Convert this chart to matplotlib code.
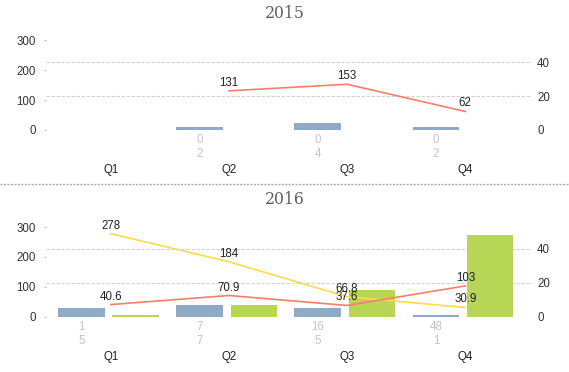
import numpy as np
import matplotlib
matplotlib.use("Agg")
import matplotlib.pyplot as plt
from matplotlib.lines import Line2D

# datos
trimestres = ["Q1", "Q2", "Q3", "Q4"]

azul_2015 = [np.nan, 2, 4, 2]
verde_2015 = [np.nan, 0, 0, 0]
rojo_2015 = [np.nan, 131, 153, 62]
amarillo_2015 = [np.nan, np.nan, np.nan, np.nan]

azul_2016 = [5, 7, 5, 1]
verde_2016 = [1, 7, 16, 48]
rojo_2016 = [40.6, 70.9, 37.6, 103]
amarillo_2016 = [278, 184, 66.8, 30.9]

izq_ticks = [0, 100, 200, 300]
der_ticks = [0, 20, 40]

c_azul = "#8eaac8"
c_verde = "#b8d655"
c_rojo = "#f4806d"
c_amarillo = "#f9dc4e"
fuente = "Liberation Sans"

fig = plt.figure(figsize=(5.69, 3.72), dpi=100)


def panel(abajo, titulo_y, titulo, azul, verde, rojo, amarillo):
    ax = fig.add_axes([0.0815, abajo, 0.8528, 0.241])
    x = np.arange(len(trimestres))
    ax2 = ax.twinx()

    # barras en el eje derecho
    ax.bar(x - 0.249, azul, width=0.394, color=c_azul, zorder=2)
    ax.bar(x + 0.21, verde, width=0.392, color=c_verde, zorder=2)
    ax.set_ylim(0, 52.8)
    ax.set_xlim(-0.544, 3.561)
    ax.yaxis.tick_right()
    ax.set_yticks(der_ticks)
    ax.tick_params(axis="y", length=0, pad=4, labelsize=8.3, labelcolor="#333333")
    ax.grid(axis="y", color="#d0d0d0", linestyle=(0, (3, 1.5)), linewidth=0.8)
    ax.set_axisbelow(True)
    ax.set_xticks([])
    for s in ax.spines.values():
        s.set_visible(False)

    # valores de las barras debajo del eje
    trans = ax.get_xaxis_transform()
    for i in range(len(trimestres)):
        if not np.isnan(azul[i]):
            ax.annotate(f"{verde[i]:g}", (x[i] - 0.249, 0), xycoords=trans,
                        xytext=(0, -10), textcoords="offset pixels",
                        ha="center", va="center", fontsize=8.3, family=fuente,
                        color="#c4c4c4", annotation_clip=False)
            ax.annotate(f"{azul[i]:g}", (x[i] - 0.249, 0), xycoords=trans,
                        xytext=(0, -24), textcoords="offset pixels",
                        ha="center", va="center", fontsize=8.3, family=fuente,
                        color="#c4c4c4", annotation_clip=False)
        ax.annotate(trimestres[i], (x[i], 0), xycoords=trans,
                    xytext=(0, -40), textcoords="offset pixels",
                    ha="center", va="center", fontsize=8.3, family=fuente,
                    color="#222222", annotation_clip=False)

    # lineas en el eje izquierdo
    ax2.yaxis.tick_left()
    ax2.plot(x, amarillo, color=c_amarillo, linewidth=1.2)
    ax2.plot(x, rojo, color=c_rojo, linewidth=1.2)
    ax2.set_ylim(0, 300)
    ax2.set_yticks(izq_ticks)
    ax2.tick_params(axis="y", length=1.5, width=0.8, color="#bbbbbb", pad=6,
                    labelsize=8.3, labelcolor="#333333")
    for s in ax2.spines.values():
        s.set_visible(False)
    for serie in (amarillo, rojo):
        for i, v in enumerate(serie):
            if not np.isnan(v):
                ax2.annotate(f"{v:g}", (x[i], v), xytext=(0, 8),
                             textcoords="offset pixels", ha="center",
                             va="center", fontsize=8.3, family=fuente,
                             color="#222222")

    for t in ax.get_yticklabels() + ax2.get_yticklabels():
        t.set_family(fuente)

    fig.text(0.5, titulo_y, titulo, ha="center", va="center",
             family="DejaVu Serif", fontsize=11.3, color="#606060")


panel(1 - 130 / 372, 1 - 13 / 372, "2015", azul_2015, verde_2015, rojo_2015, amarillo_2015)
panel(1 - 316.7 / 372, 1 - 199 / 372, "2016", azul_2016, verde_2016, rojo_2016, amarillo_2016)

# separador punteado entre los dos graficos
fig.add_artist(Line2D([0, 1], [1 - 183.5 / 372, 1 - 183.5 / 372],
                      transform=fig.transFigure, color="#aaaaaa",
                      linestyle=(0, (1.5, 1)), linewidth=1))

fig.savefig("out.png", dpi=100)
